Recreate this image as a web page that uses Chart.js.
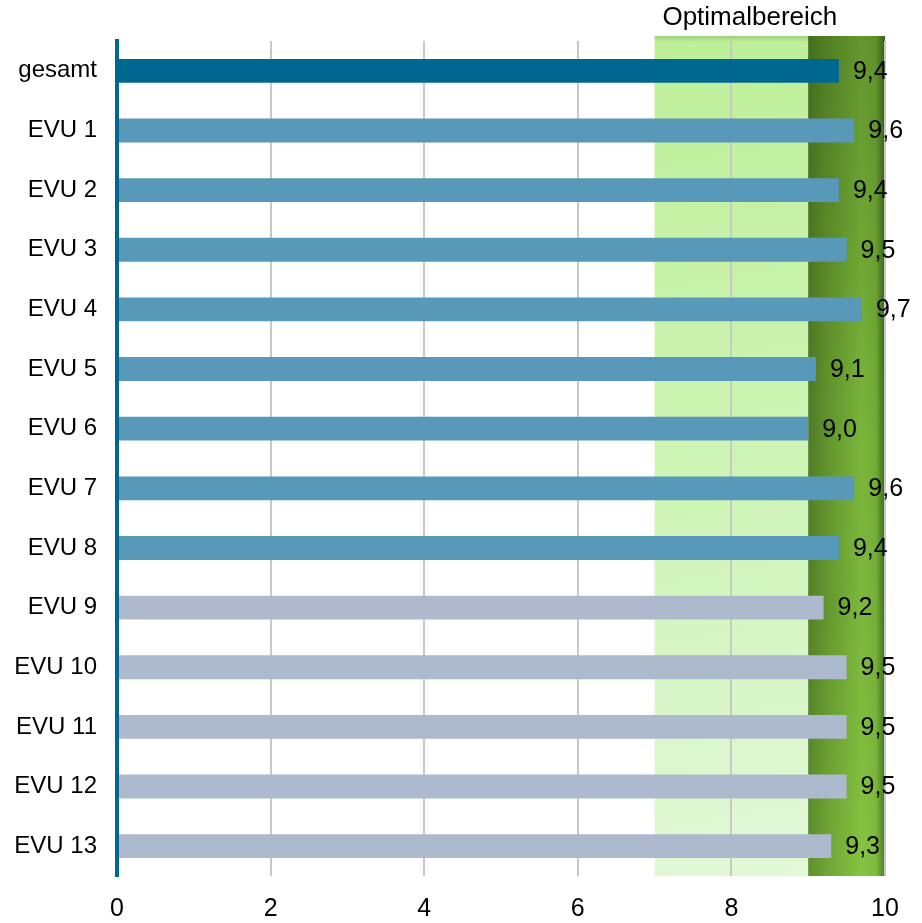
<!DOCTYPE html>
<html>
<head>
<meta charset="utf-8">
<script src="https://cdn.jsdelivr.net/npm/chart.js@4.4.1/dist/chart.umd.min.js"></script>
<style>
  html, body { margin: 0; padding: 0; background: #ffffff; }
  #wrap { width: 922px; height: 923px; }
</style>
</head>
<body>
<div id="wrap"><canvas id="chart" width="922" height="923"></canvas></div>
<script>
// Scores per utility (scale 0-10)
const categories = ['gesamt', 'EVU 1', 'EVU 2', 'EVU 3', 'EVU 4', 'EVU 5', 'EVU 6',
                    'EVU 7', 'EVU 8', 'EVU 9', 'EVU 10', 'EVU 11', 'EVU 12', 'EVU 13'];
const scores = [9.4, 9.6, 9.4, 9.5, 9.7, 9.1, 9.0, 9.6, 9.4, 9.2, 9.5, 9.5, 9.5, 9.3];
const groups = ['total', 'A', 'A', 'A', 'A', 'A', 'A', 'A', 'A', 'B', 'B', 'B', 'B', 'B'];
const xTicks = [0, 2, 4, 6, 8, 10];

// Target band: outer zone from 7, core zone from 9 up to 10
const optimalFrom = 7;
const optimalCore = 9;
const optimalTo = 10;
const optimalTitle = 'Optimalbereich';

const groupColors = { total: '#006890', A: '#5898b8', B: '#adb9cc' };
const FONT = '"Liberation Sans", Arial, Helvetica, sans-serif';

Chart.defaults.font.family = FONT;
Chart.defaults.color = '#000000';

// Green target band painted behind the grid
const optimalZone = {
  id: 'optimalZone',
  beforeDraw(chart) {
    const { ctx, chartArea, scales: { x } } = chart;
    const top = chartArea.top - 5;
    const bottom = chartArea.bottom;
    const x0 = x.getPixelForValue(optimalFrom);
    const x1 = x.getPixelForValue(optimalCore);
    const x2 = x.getPixelForValue(optimalTo);
    ctx.save();

    // outer zone, light green with a soft diagonal fade
    const lg = ctx.createLinearGradient(x0, top, x1, bottom);
    lg.addColorStop(0, '#bdef98');
    lg.addColorStop(0.5, '#cdf4b4');
    lg.addColorStop(1, '#e2f8d8');
    ctx.fillStyle = lg;
    ctx.fillRect(x0, top, x1 - x0, bottom - top);
    const lt = ctx.createLinearGradient(0, top, 0, top + 6);
    lt.addColorStop(0, 'rgba(120,170,90,0.45)');
    lt.addColorStop(1, 'rgba(120,170,90,0)');
    ctx.fillStyle = lt;
    ctx.fillRect(x0, top, x1 - x0, 6);

    // core zone, darker green with shaded edges
    const dg = ctx.createLinearGradient(x1, 0, x2, 0);
    dg.addColorStop(0, '#537f28');
    dg.addColorStop(0.25, '#669a30');
    dg.addColorStop(0.7, '#80be3e');
    dg.addColorStop(0.88, '#78b43a');
    dg.addColorStop(1, '#3f6a1c');
    ctx.fillStyle = dg;
    ctx.fillRect(x1, top, x2 - x1, bottom - top);
    const dv = ctx.createLinearGradient(0, top, 0, bottom);
    dv.addColorStop(0, 'rgba(40,70,10,0.32)');
    dv.addColorStop(0.5, 'rgba(40,70,10,0.06)');
    dv.addColorStop(1, 'rgba(170,240,90,0.14)');
    ctx.fillStyle = dv;
    ctx.fillRect(x1, top, x2 - x1, bottom - top);

    // zone caption
    ctx.fillStyle = '#000000';
    ctx.font = '26px ' + FONT;
    ctx.textAlign = 'center';
    ctx.textBaseline = 'alphabetic';
    ctx.fillText(optimalTitle, x.getPixelForValue(8.24), chartArea.top - 16);
    ctx.restore();
  }
};

// Value labels to the right of each bar, German decimal comma
const valueLabels = {
  id: 'valueLabels',
  afterDatasetsDraw(chart) {
    const { ctx } = chart;
    const meta = chart.getDatasetMeta(0);
    ctx.save();
    ctx.fillStyle = '#000000';
    ctx.font = '25px ' + FONT;
    ctx.textAlign = 'left';
    ctx.textBaseline = 'middle';
    meta.data.forEach((bar, i) => {
      const v = chart.data.datasets[0].data[i];
      ctx.fillText(v.toFixed(1).replace('.', ','), bar.x + 14, bar.y + 1);
    });
    ctx.restore();
  }
};

new Chart(document.getElementById('chart'), {
  type: 'bar',
  data: {
    labels: categories,
    datasets: [{
      data: scores,
      backgroundColor: groups.map(g => groupColors[g]),
      borderWidth: 0,
      categoryPercentage: 1,
      barPercentage: 0.4
    }]
  },
  options: {
    indexAxis: 'y',
    responsive: false,
    animation: false,
    layout: { padding: { top: 41, right: 37, left: 0, bottom: 0 } },
    plugins: { legend: { display: false }, tooltip: { enabled: false } },
    scales: {
      x: {
        min: 0,
        max: 10,
        afterBuildTicks(scale) { scale.ticks = xTicks.map(v => ({ value: v })); },
        afterFit(scale) { scale.height = 47; },
        grid: { color: '#c8c8c8', lineWidth: 2, drawTicks: false },
        border: { display: false },
        ticks: { font: { size: 25 }, color: '#000000', padding: 18, maxRotation: 0 }
      },
      y: {
        afterFit(scale) { scale.width = 117; },
        grid: { display: false, drawTicks: false },
        border: { display: true, color: '#006890', width: 4, z: 1 },
        ticks: { font: { size: 24 }, color: '#000000', padding: 20 }
      }
    }
  },
  plugins: [optimalZone, valueLabels]
});
</script>
</body>
</html>
